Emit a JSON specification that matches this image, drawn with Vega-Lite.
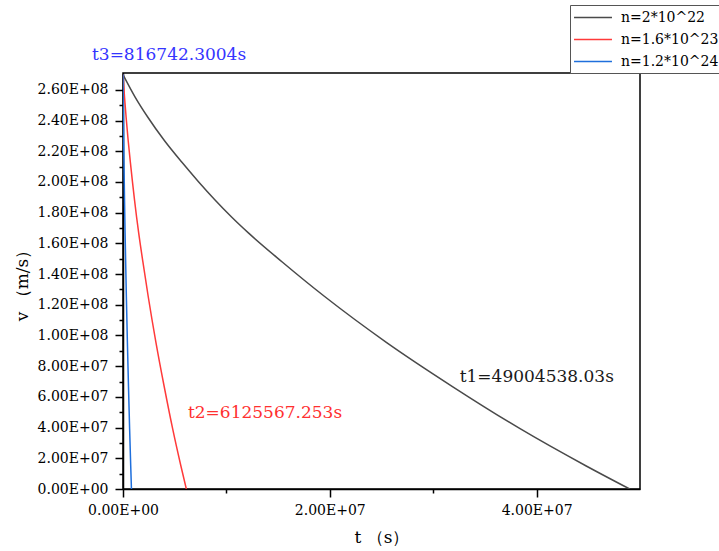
{
  "$schema": "https://vega.github.io/schema/vega-lite/v6.json",
  "width": 517,
  "height": 416,
  "autosize": {"type": "none"},
  "padding": {"left": 123, "top": 73, "right": 79, "bottom": 62},
  "background": "white",
  "config": {
    "view": {"stroke": "#000", "strokeWidth": 1.5},
    "font": "DejaVu Serif",
    "axis": {
      "grid": false,
      "domainColor": "#000",
      "domainWidth": 1.5,
      "tickColor": "#000",
      "tickWidth": 1.5,
      "labelFont": "DejaVu Serif",
      "labelFontSize": 14,
      "labelColor": "#000",
      "titleFont": "DejaVu Serif",
      "titleFontSize": 17,
      "titleFontWeight": "normal",
      "titleColor": "#000"
    }
  },
  "datasets": {
    "curves": [
      {"series": "n=2*10^22", "t": 0, "v": 270000000},
      {"series": "n=2*10^22", "t": 1200000, "v": 255000000},
      {"series": "n=2*10^22", "t": 2420000, "v": 242000000},
      {"series": "n=2*10^22", "t": 4000000, "v": 227000000},
      {"series": "n=2*10^22", "t": 5700000, "v": 212800000},
      {"series": "n=2*10^22", "t": 7300000, "v": 200200000},
      {"series": "n=2*10^22", "t": 8900000, "v": 188300000},
      {"series": "n=2*10^22", "t": 10500000, "v": 177200000},
      {"series": "n=2*10^22", "t": 12100000, "v": 167000000},
      {"series": "n=2*10^22", "t": 15400000, "v": 147900000},
      {"series": "n=2*10^22", "t": 19500000, "v": 125400000},
      {"series": "n=2*10^22", "t": 25500000, "v": 95400000},
      {"series": "n=2*10^22", "t": 31900000, "v": 66600000},
      {"series": "n=2*10^22", "t": 38400000, "v": 39300000},
      {"series": "n=2*10^22", "t": 44800000, "v": 15000000},
      {"series": "n=2*10^22", "t": 49004538, "v": 0},
      {"series": "n=1.6*10^23", "t": 0, "v": 270000000},
      {"series": "n=1.6*10^23", "t": 150000, "v": 255000000},
      {"series": "n=1.6*10^23", "t": 303000, "v": 242000000},
      {"series": "n=1.6*10^23", "t": 500000, "v": 227000000},
      {"series": "n=1.6*10^23", "t": 713000, "v": 212800000},
      {"series": "n=1.6*10^23", "t": 913000, "v": 200200000},
      {"series": "n=1.6*10^23", "t": 1113000, "v": 188300000},
      {"series": "n=1.6*10^23", "t": 1313000, "v": 177200000},
      {"series": "n=1.6*10^23", "t": 1513000, "v": 167000000},
      {"series": "n=1.6*10^23", "t": 1925000, "v": 147900000},
      {"series": "n=1.6*10^23", "t": 2438000, "v": 125400000},
      {"series": "n=1.6*10^23", "t": 3188000, "v": 95400000},
      {"series": "n=1.6*10^23", "t": 3988000, "v": 66600000},
      {"series": "n=1.6*10^23", "t": 4800000, "v": 39300000},
      {"series": "n=1.6*10^23", "t": 5600000, "v": 15000000},
      {"series": "n=1.6*10^23", "t": 6125567, "v": 0},
      {"series": "n=1.2*10^24", "t": 0, "v": 270000000},
      {"series": "n=1.2*10^24", "t": 20000, "v": 255000000},
      {"series": "n=1.2*10^24", "t": 40300, "v": 242000000},
      {"series": "n=1.2*10^24", "t": 66700, "v": 227000000},
      {"series": "n=1.2*10^24", "t": 95000, "v": 212800000},
      {"series": "n=1.2*10^24", "t": 121700, "v": 200200000},
      {"series": "n=1.2*10^24", "t": 148300, "v": 188300000},
      {"series": "n=1.2*10^24", "t": 175000, "v": 177200000},
      {"series": "n=1.2*10^24", "t": 201700, "v": 167000000},
      {"series": "n=1.2*10^24", "t": 256700, "v": 147900000},
      {"series": "n=1.2*10^24", "t": 325000, "v": 125400000},
      {"series": "n=1.2*10^24", "t": 425000, "v": 95400000},
      {"series": "n=1.2*10^24", "t": 531700, "v": 66600000},
      {"series": "n=1.2*10^24", "t": 640000, "v": 39300000},
      {"series": "n=1.2*10^24", "t": 746700, "v": 15000000},
      {"series": "n=1.2*10^24", "t": 816742, "v": 0}
    ],
    "notes": [
      {"note": "t3", "t": -3000000, "v": 282700000, "label": "t3=816742.3004s"},
      {"note": "t1", "t": 32560000, "v": 73000000, "label": "t1=49004538.03s"},
      {"note": "t2", "t": 6280000, "v": 49500000, "label": "t2=6125567.253s"}
    ]
  },
  "layer": [
    {
      "data": {"name": "curves"},
      "mark": {"type": "line", "strokeWidth": 1.5, "clip": true, "interpolate": "monotone"},
      "encoding": {
        "x": {
          "field": "t",
          "type": "quantitative",
          "scale": {"domain": [0, 50000000], "nice": false, "zero": false},
          "axis": {
            "title": "t （s）",
            "values": [0, 10000000, 20000000, 30000000, 40000000],
            "labelExpr": "datum.value % 20000000 ? '' : replace(format(datum.value, '.2e'), 'e+', 'E+0')",
            "tickSize": {"condition": {"test": "datum.value % 20000000 != 0", "value": 4}, "value": 8},
            "labelPadding": 6,
            "titlePadding": 12,
            "labelOverlap": false,
            "labelFlush": false
          }
        },
        "y": {
          "field": "v",
          "type": "quantitative",
          "scale": {"domain": [0, 271000000], "nice": false, "zero": false},
          "axis": {
            "orient": "left",
            "title": "v （m/s）",
            "values": [0, 20000000, 40000000, 60000000, 80000000, 100000000, 120000000, 140000000, 160000000, 180000000, 200000000, 220000000, 240000000, 260000000],
            "labelExpr": "replace(format(datum.value, '.2e'), 'e+', 'E+0')",
            "tickSize": 8,
            "labelPadding": 7,
            "titlePadding": 6,
            "labelOverlap": false,
            "labelFlush": false
          }
        },
        "color": {
          "field": "series",
          "type": "nominal",
          "sort": null,
          "scale": {
            "domain": ["n=2*10^22", "n=1.6*10^23", "n=1.2*10^24"],
            "range": ["#4a4a4a", "#ff3a3a", "#1f6fdc"]
          },
          "legend": {
            "orient": "none",
            "legendX": 447,
            "legendY": -68,
            "title": null,
            "symbolType": "M-2.53,0H2.53",
            "symbolSize": 225,
            "symbolStrokeWidth": 1.5,
            "symbolOffset": 10.5,
            "labelOffset": 19.5,
            "labelFont": "DejaVu Serif",
            "labelFontSize": 14,
            "labelColor": "#000",
            "labelLimit": 400,
            "strokeColor": "#555",
            "fillColor": "#fff",
            "padding": 4,
            "rowPadding": 6
          }
        }
      }
    },
    {
      "data": {"name": "notes"},
      "mark": {"type": "text", "align": "left", "baseline": "middle", "fontSize": 17, "font": "DejaVu Serif"},
      "encoding": {
        "x": {"field": "t", "type": "quantitative"},
        "y": {
          "field": "v",
          "type": "quantitative",
          "axis": {
            "orient": "left",
            "title": null,
            "labels": false,
            "domain": false,
            "tickSize": 4,
            "values": [10000000, 30000000, 50000000, 70000000, 90000000, 110000000, 130000000, 150000000, 170000000, 190000000, 210000000, 230000000, 250000000]
          }
        },
        "text": {"field": "label"},
        "color": {
          "field": "note",
          "type": "nominal",
          "scale": {"domain": ["t1", "t2", "t3"], "range": ["#1a1a1a", "#ff3030", "#3434ff"]},
          "legend": null
        }
      }
    }
  ],
  "resolve": {"scale": {"color": "independent"}, "legend": {"color": "independent"}, "axis": {"y": "independent"}}
}
